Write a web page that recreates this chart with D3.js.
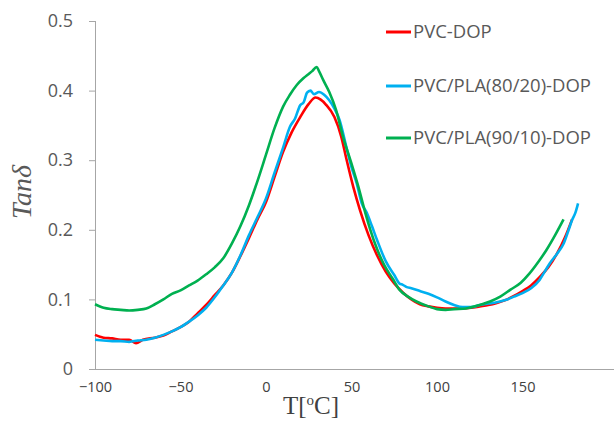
<!DOCTYPE html>
<html><head><meta charset="utf-8">
<script src="https://cdn.jsdelivr.net/npm/d3@7"></script>
<style>body{margin:0;background:#fff}svg{display:block}</style>
</head><body>
<svg id="chart" width="614" height="421"></svg>
<script>
const seriesNames = ["PVC-DOP", "PVC/PLA(80/20)-DOP", "PVC/PLA(90/10)-DOP"];
const seriesColors = ["#ff0000", "#00b0f0", "#00b050"];
const xTicks = [-100, -50, 0, 50, 100, 150];
const yTicks = [0, 0.1, 0.2, 0.3, 0.4, 0.5];

const redT = [-100,-95,-90,-85,-80,-76,-72,-65,-60,-55,-50,-45,-40,-35,-30,-25,-20,-15,-10,-5,0,5,10,15,20,25,29,32,35,40,44,47,51,55,60,65,70,75,80,85,90,95,100,105,110,115,120,125,130,135,140,145,150,155,160,165,170,175,179];
const redV = [0.049,0.045,0.044,0.042,0.042,0.037,0.042,0.045,0.048,0.054,0.060,0.068,0.080,0.092,0.106,0.120,0.138,0.162,0.188,0.215,0.240,0.276,0.312,0.340,0.362,0.381,0.390,0.387,0.380,0.362,0.334,0.302,0.262,0.228,0.192,0.163,0.140,0.123,0.110,0.100,0.093,0.090,0.088,0.087,0.087,0.087,0.088,0.090,0.092,0.095,0.099,0.105,0.112,0.120,0.132,0.146,0.165,0.190,0.215];

const blueT = [-100,-95,-90,-85,-80,-75,-70,-65,-60,-55,-50,-45,-40,-35,-30,-25,-20,-15,-10,-5,0,5,10,14,17,20,22,24,26,28,31,34,37,40,43,47,50,53,56,59,62,65,70,75,78,80,82,85,90,95,100,105,110,115,120,125,130,135,140,145,150,155,160,163,166,170,174,177,179,181,182.5];
const blueV = [0.042,0.041,0.040,0.040,0.039,0.041,0.042,0.045,0.049,0.054,0.060,0.068,0.077,0.088,0.103,0.120,0.138,0.163,0.192,0.218,0.245,0.282,0.318,0.348,0.360,0.379,0.383,0.397,0.400,0.395,0.398,0.394,0.386,0.374,0.358,0.319,0.290,0.267,0.238,0.224,0.205,0.185,0.155,0.135,0.123,0.121,0.118,0.116,0.112,0.108,0.103,0.097,0.092,0.089,0.089,0.092,0.094,0.096,0.099,0.104,0.109,0.116,0.128,0.140,0.152,0.165,0.180,0.200,0.214,0.225,0.238];

const greenT = [-100,-95,-90,-85,-80,-75,-70,-65,-60,-55,-50,-45,-40,-35,-30,-25,-20,-15,-10,-5,0,5,10,14,18,22,25,27,29.6,31,33.5,37,41,45,50,54,58,61,65,69,74,78,83,88,95,100,105,110,117,125,131,137,143,149,154,159,164,169,174];
const greenV = [0.093,0.088,0.086,0.085,0.084,0.085,0.087,0.093,0.100,0.108,0.113,0.120,0.127,0.136,0.146,0.159,0.180,0.205,0.235,0.270,0.308,0.346,0.377,0.394,0.408,0.418,0.424,0.428,0.434,0.428,0.415,0.398,0.372,0.334,0.295,0.262,0.225,0.200,0.172,0.150,0.130,0.114,0.104,0.097,0.090,0.086,0.085,0.086,0.087,0.092,0.097,0.104,0.114,0.124,0.137,0.153,0.171,0.192,0.215];

const series = [
  {name: seriesNames[0], color: seriesColors[0], T: redT, V: redV},
  {name: seriesNames[1], color: seriesColors[1], T: blueT, V: blueV},
  {name: seriesNames[2], color: seriesColors[2], T: greenT, V: greenV}
];

const svg = d3.select("#chart");
const x = d3.scaleLinear().domain([-100, 200]).range([95, 608]);
const y = d3.scaleLinear().domain([0, 0.5]).range([369, 21]);
const axisColor = "#a6a6a6";

// Y axis
const yAxis = svg.append("g").attr("transform", "translate(95,0)")
  .call(d3.axisLeft(y).tickValues(yTicks).tickSize(6).tickPadding(16)
    .tickFormat(d => d === 0 ? "0" : d3.format(".1f")(d)));
yAxis.select(".domain").attr("stroke", axisColor).attr("d", `M0.5,${y(0.5)}V${y(0)}`);
yAxis.selectAll(".tick line").attr("stroke", axisColor);
yAxis.selectAll("text").attr("fill", "#595959").style("font-family", "'Open Sans', sans-serif").style("font-size", "18px");

// X axis
const xAxis = svg.append("g").attr("transform", "translate(0,369)")
  .call(d3.axisBottom(x).tickValues(xTicks).tickSize(0).tickPadding(13).tickFormat(d3.format("d")));
xAxis.select(".domain").remove();
xAxis.append("line").attr("x1", 89).attr("x2", 614).attr("y1", 0.5).attr("y2", 0.5).attr("stroke", axisColor);
xAxis.selectAll("text").attr("fill", "#404040").style("font-family", "'Open Sans', sans-serif").style("font-size", "14.5px");

// Lines
const line = d3.line().x(d => x(d[0])).y(d => y(d[1])).curve(d3.curveMonotoneX);
series.forEach(s => {
  svg.append("path").datum(s.T.map((t, i) => [t, s.V[i]]))
    .attr("d", line).attr("fill", "none").attr("stroke", s.color)
    .attr("stroke-width", 2.6).attr("stroke-linejoin", "round");
});

// Legend
const legendY = [32, 86, 138];
series.forEach((s, i) => {
  svg.append("line").attr("x1", 386).attr("x2", 411).attr("y1", legendY[i]).attr("y2", legendY[i])
    .attr("stroke", s.color).attr("stroke-width", 3);
  svg.append("text").attr("x", 413).attr("y", legendY[i]).attr("dy", "0.35em")
    .attr("fill", "#595959").style("font-family", "'Open Sans', sans-serif").style("font-size", "18.5px")
    .text(s.name);
});

// Axis titles
svg.append("text").attr("transform", "translate(31,192) rotate(-90)").attr("text-anchor", "middle")
  .attr("fill", "#595959").style("font-family", "'Liberation Serif', serif").style("font-style", "italic").style("font-size", "28px")
  .text("Tanδ");
const xt = svg.append("text").attr("x", 311).attr("y", 414).attr("text-anchor", "middle")
  .attr("fill", "#404040").style("font-family", "'Liberation Serif', serif").style("font-size", "25px");
xt.append("tspan").text("T[");
xt.append("tspan").attr("dy", -9).style("font-size", "15px").text("o");
xt.append("tspan").attr("dy", 9).text("C]");
</script>
</body></html>
